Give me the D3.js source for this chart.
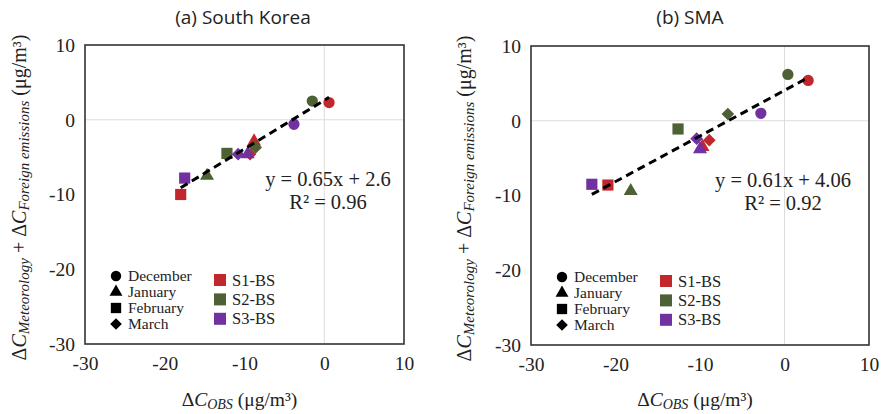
<!DOCTYPE html>
<html>
<head>
<meta charset="utf-8">
<script src="https://cdn.jsdelivr.net/npm/d3@7"></script>
<style>
  body { margin: 0; background: #fff; }
  text { fill: #222; }
</style>
</head>
<body>
<div id="chart"></div>
<script>
// data
var months = ["December", "January", "February", "March"];
var scenarios = ["S1-BS", "S2-BS", "S3-BS"];
var scenarioColors = ["#c1272d", "#4d6135", "#7131a1"];
var xTicks = [-30, -20, -10, 0, 10];
var yTicks = [-30, -20, -10, 0, 10];

// rows = scenario, columns = month
var koreaObs   = [[0.6, -8.8, -18.0, -9.3], [-1.5, -14.7, -12.2, -8.6], [-3.8, -9.6, -17.5, -10.8]];
var koreaModel = [[2.3, -2.9, -10.0, -4.6], [2.5, -7.5, -4.5, -3.7], [-0.6, -4.6, -7.8, -4.6]];
var smaObs   = [[2.8, -9.7, -20.9, -8.9], [0.4, -18.2, -12.6, -6.7], [-2.8, -10.0, -22.8, -10.4]];
var smaModel = [[5.4, -3.5, -8.6, -2.6], [6.2, -9.4, -1.1, 0.9], [1.0, -3.8, -8.5, -2.4]];

var koreaFit = {slope: 0.65, intercept: 2.6, eq: "y = 0.65x + 2.6", r2: "R² = 0.96"};
var smaFit = {slope: 0.61, intercept: 4.06, eq: "y = 0.61x + 4.06", r2: "R² = 0.92"};

var W = 882, H = 414;
var svg = d3.select("#chart").append("svg")
    .attr("width", W)
    .attr("height", H);

// diamond = square turned 45 degrees
var symbolTypes = [d3.symbolCircle, d3.symbolTriangle, d3.symbolSquare, d3.symbolSquare];
var symbolSizes = [100, 85, 125, 80];
var symbolRotate = [0, 0, 0, 45];

var serif = "'Liberation Serif', 'Times New Roman', serif";

function drawPanel(p) {
    var x = d3.scaleLinear().domain([-30, 10]).range([p.left, p.right]);
    var y = d3.scaleLinear().domain([-30, 10]).range([p.bottom, p.top]);
    var g = svg.append("g");

    // title
    g.append("text")
        .attr("x", p.titleX)
        .attr("y", 24)
        .attr("text-anchor", "middle")
        .style("font-family", "'Open Sans', sans-serif")
        .style("font-size", "19px")
        .text(p.title);

    // zero gridlines
    g.append("line")
        .attr("x1", x(0)).attr("x2", x(0))
        .attr("y1", p.top).attr("y2", p.bottom)
        .attr("stroke", "#dcdcdc").attr("stroke-width", 1);
    g.append("line")
        .attr("x1", p.left).attr("x2", p.right)
        .attr("y1", y(0)).attr("y2", y(0))
        .attr("stroke", "#dcdcdc").attr("stroke-width", 1);

    // axes
    var fmt = function(d) { return String(d); };
    var xAxis = g.append("g")
        .attr("transform", "translate(0," + p.bottom + ")")
        .call(d3.axisBottom(x).tickValues(xTicks).tickFormat(fmt).tickSize(0).tickPadding(12));
    var yAxis = g.append("g")
        .attr("transform", "translate(" + p.left + ",0)")
        .call(d3.axisLeft(y).tickValues(yTicks).tickFormat(fmt).tickSize(0).tickPadding(10));
    [xAxis, yAxis].forEach(function(a) {
        a.attr("font-family", null).attr("font-size", null);
        a.select(".domain").remove();
        a.selectAll("text")
            .style("font-family", serif)
            .style("font-size", "19.5px")
            .attr("fill", "#222");
    });

    // frame
    g.append("rect")
        .attr("x", p.left).attr("y", p.top)
        .attr("width", p.right - p.left)
        .attr("height", p.bottom - p.top)
        .attr("fill", "none")
        .attr("stroke", "#333")
        .attr("stroke-width", 1.6);

    // points
    var pts = [];
    scenarios.forEach(function(s, si) {
        months.forEach(function(m, mi) {
            pts.push({s: si, m: mi, x: p.obs[si][mi], y: p.model[si][mi]});
        });
    });
    g.selectAll("path.pt")
        .data(pts)
        .enter().append("path")
        .attr("class", "pt")
        .attr("d", function(d) { return d3.symbol().type(symbolTypes[d.m]).size(symbolSizes[d.m])(); })
        .attr("transform", function(d) {
            return "translate(" + x(d.x) + "," + y(d.y) + ") rotate(" + symbolRotate[d.m] + ")";
        })
        .attr("fill", function(d) { return scenarioColors[d.s]; });

    // trendline
    var allX = pts.map(function(d) { return d.x; });
    var x0 = d3.min(allX), x1 = d3.max(allX);
    g.append("line")
        .attr("x1", x(x0)).attr("y1", y(p.fit.slope * x0 + p.fit.intercept))
        .attr("x2", x(x1)).attr("y2", y(p.fit.slope * x1 + p.fit.intercept))
        .attr("stroke", "#000")
        .attr("stroke-width", 3)
        .attr("stroke-dasharray", "8,5");

    // equation
    g.append("text")
        .attr("x", p.eqX).attr("y", y(-8.9))
        .attr("text-anchor", "middle")
        .style("font-family", serif)
        .style("font-size", "20.5px")
        .text(p.fit.eq);
    g.append("text")
        .attr("x", p.eqX).attr("y", y(-8.9) + 23)
        .attr("text-anchor", "middle")
        .style("font-family", serif)
        .style("font-size", "20.5px")
        .text(p.fit.r2);

    // legend: months (rows sit tight, as in the original)
    var lx = p.left + 31, ly = p.bottom - 68, step = 16;
    months.forEach(function(m, i) {
        g.append("path")
            .attr("d", d3.symbol().type(symbolTypes[i]).size(symbolSizes[i] * 0.85)())
            .attr("transform", "translate(" + lx + "," + (ly + i * step) + ") rotate(" + symbolRotate[i] + ")")
            .attr("fill", "#000");
        g.append("text")
            .attr("x", lx + 12).attr("y", ly + i * step + 5)
            .style("font-family", serif)
            .style("font-size", "15.5px")
            .text(m);
    });
    // legend: scenarios
    var cx = p.left + 135, cy = p.bottom - 64;
    scenarios.forEach(function(s, i) {
        g.append("rect")
            .attr("x", cx - 6).attr("y", cy + i * 19.4 - 6)
            .attr("width", 12).attr("height", 12)
            .attr("fill", scenarioColors[i]);
        g.append("text")
            .attr("x", cx + 12).attr("y", cy + i * 19.4 + 5.5)
            .style("font-family", serif)
            .style("font-size", "16.5px")
            .text(s);
    });

    // x axis label
    var xl = g.append("text")
        .attr("x", (p.left + p.right) / 2 - 5)
        .attr("y", 406)
        .attr("text-anchor", "middle")
        .style("font-family", serif)
        .style("font-size", "19.5px");
    xl.append("tspan").text("Δ");
    xl.append("tspan").style("font-style", "italic").text("C");
    xl.append("tspan").style("font-style", "italic").style("font-size", "14px").attr("dy", 3).text("OBS");
    xl.append("tspan").attr("dy", -3).text(" (μg/m³)");

    // y axis label
    var yl = g.append("text")
        .attr("transform", "translate(" + p.yLabelX + "," + ((p.top + p.bottom) / 2 + 3) + ") rotate(-90)")
        .attr("text-anchor", "middle")
        .style("font-family", serif)
        .style("font-size", "20px");
    yl.append("tspan").text("Δ");
    yl.append("tspan").style("font-style", "italic").text("C");
    yl.append("tspan").style("font-style", "italic").style("font-size", "15px").attr("dy", 3).text("Meteorology");
    yl.append("tspan").attr("dy", -3).text(" + Δ");
    yl.append("tspan").style("font-style", "italic").text("C");
    yl.append("tspan").style("font-style", "italic").style("font-size", "15px").attr("dy", 3).text("Foreign emissions");
    yl.append("tspan").attr("dy", -3).text(" (μg/m³)");
}

drawPanel({left: 85, right: 404, top: 45, bottom: 344, title: "(a) South Korea", titleX: 243,
           obs: koreaObs, model: koreaModel, fit: koreaFit, eqX: 328, yLabelX: 26});
drawPanel({left: 531, right: 869, top: 46, bottom: 345, title: "(b) SMA", titleX: 690,
           obs: smaObs, model: smaModel, fit: smaFit, eqX: 783, yLabelX: 471});
</script>
</body>
</html>
